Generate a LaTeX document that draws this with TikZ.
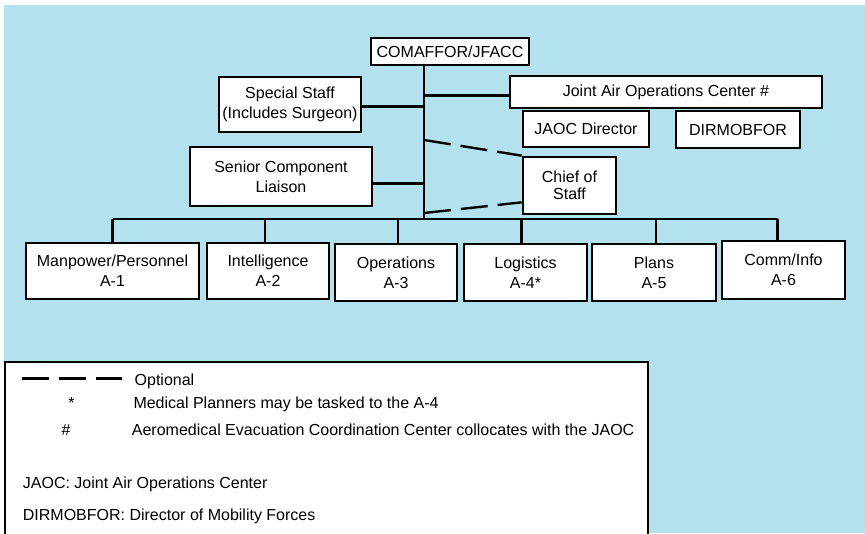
\documentclass[tikz,border=0pt]{standalone}
\usepackage{fontspec}
\setmainfont{Liberation Sans}
\usetikzlibrary{calc}
\definecolor{bgblue}{RGB}{179,226,238}
\begin{document}
\begin{tikzpicture}[x=1pt,y=-1pt,
  box/.style={draw, fill=white, line width=2.7pt, inner sep=0pt, align=center,
              font=\fontsize{16}{20}\selectfont},
  link/.style={line width=2.2pt},
  opt/.style={line width=2.4pt, dash pattern=on 27pt off 10pt},
  note/.style={anchor=base west, inner sep=0pt, font=\fontsize{16}{20}\selectfont},
  sym/.style={anchor=base, inner sep=0pt, font=\fontsize{16}{20}\selectfont}]
\useasboundingbox (0,0) rectangle (865,533);
\fill[bgblue] (4,5) rectangle (865,533);

% command level
\node[box, minimum width=158, minimum height=27] (com) at (450,51.5) {COMAFFOR/JFACC};
\node[box, minimum width=142, minimum height=55] (ss) at (290,104.5) {Special Staff\\(Includes Surgeon)};
\node[box, minimum width=312, minimum height=32] (jaoc) at (666,92) {Joint Air Operations Center \#};
\node[box, minimum width=126, minimum height=36] (jd) at (586,129) {JAOC Director};
\node[box, minimum width=124, minimum height=37] (dm) at (738,129.5) {DIRMOBFOR};
\node[box, minimum width=182, minimum height=59] (scl) at (281,176.5) {Senior Component\\Liaison};
\node[box, minimum width=93, minimum height=57, font=\fontsize{16}{17}\selectfont] (cos) at (569.5,185.5) {Chief of\\Staff};

% staff directorates
\node[box, minimum width=173, minimum height=56] (a1) at (112.5,271) {Manpower/Personnel\\A-1};
\node[box, minimum width=122, minimum height=56] (a2) at (268,271) {Intelligence\\A-2};
\node[box, minimum width=122, minimum height=57] (a3) at (396,272.5) {Operations\\A-3};
\node[box, minimum width=123, minimum height=57] (a4) at (525.5,272.5) {Logistics\\A-4*};
\node[box, minimum width=124, minimum height=57] (a5) at (654,272.5) {Plans\\A-5};
\node[box, minimum width=123, minimum height=58] (a6) at (783.5,270) {Comm/Info\\A-6};

% trunk and bus
\coordinate (bus) at (424,219);
\coordinate (d1) at (424,140);
\coordinate (d2) at (424,213);
\draw[link] (com.south -| bus) -- (bus);
\draw[link] ($(ss.east)+(0,2)$) -- ($(ss.east -| bus)+(0,2)$);
\draw[link] ($(jaoc.west)+(0,3.5)$) -- ($(jaoc.west -| bus)+(0,3.5)$);
\draw[link] ($(scl.east)+(0,7)$) -- ($(scl.east -| bus)+(0,7)$);
\draw[opt] (d1) -- (cos.north west);
\draw[opt] (d2) -- ($(cos.south west)+(0,-13)$);

\draw[link] (a1.north |- bus) -- ($(a6.north |- bus)+(-6,0)$);
\draw[link] (a1.north) -- (a1.north |- bus);
\draw[link] ($(a2.north)+(-3,0)$) -- ($(a2.north |- bus)+(-3,0)$);
\draw[link] ($(a3.north)+(2,0)$) -- ($(a3.north |- bus)+(2,0)$);
\draw[link] ($(a4.north)+(-4,0)$) -- ($(a4.north |- bus)+(-4,0)$);
\draw[link] ($(a5.north)+(2,0)$) -- ($(a5.north |- bus)+(2,0)$);
\draw[link] ($(a6.north)+(-6,0)$) -- ($(a6.north |- bus)+(-6,0)$);

% legend
\draw[line width=2.4pt, fill=white] (5,362) rectangle (648,545);
\coordinate (l1) at (22,378.5);
\coordinate (l2) at (122,378.5);
\draw[opt] (l1) -- (l2);
\node[note] (t1) at (134.5,385) {Optional};
\node[sym] (m2) at (71.5,408.3) {*};
\node[note] (t2) at (133.3,408.3) {Medical Planners may be tasked to the A-4};
\node[sym] (m3) at (66,435) {\#};
\node[note] (t3) at (131.7,435) {Aeromedical Evacuation Coordination Center collocates with the JAOC};
\node[note] (t4) at (22.7,488.3) {JAOC: Joint Air Operations Center};
\node[note] (t5) at (22.7,520) {DIRMOBFOR: Director of Mobility Forces};
\end{tikzpicture}
\end{document}
